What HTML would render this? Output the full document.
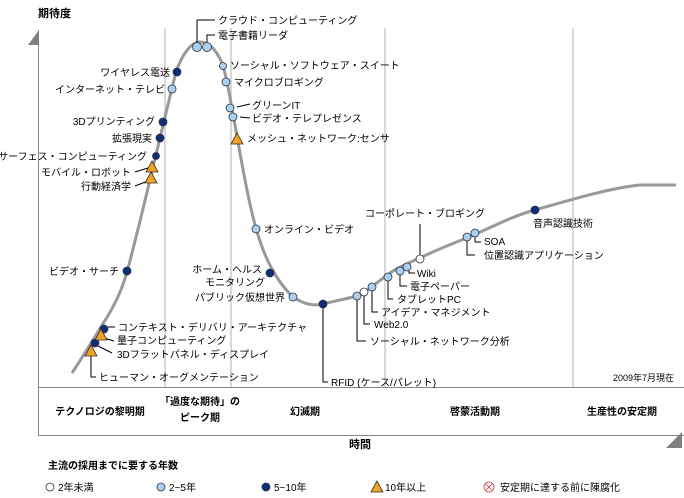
<!DOCTYPE html>
<html><head><meta charset="utf-8"><style>
html,body{margin:0;padding:0;background:#fff;}
svg{display:block;font-family:"Liberation Sans","Noto Sans CJK JP",sans-serif;}
text{font-size:10px;fill:#000;}
.b{font-weight:bold;font-size:11px;}
</style></head><body>
<svg width="684" height="498" viewBox="0 0 684 498">
<!-- phase lines -->
<g stroke="#d8d8d8" stroke-width="2">
<line x1="165" y1="28" x2="165" y2="387"/>
<line x1="231" y1="28" x2="231" y2="387"/>
<line x1="385" y1="28" x2="385" y2="387"/>
<line x1="573" y1="28" x2="573" y2="387"/>
</g>
<!-- axes -->
<line x1="38.5" y1="30" x2="38.5" y2="435" stroke="#888" stroke-width="1"/>
<polygon points="28,45 39,30 39,45" fill="#808080"/>
<line x1="38" y1="387.5" x2="684" y2="387.5" stroke="#888"/>
<line x1="38" y1="435.5" x2="684" y2="435.5" stroke="#888"/>
<polygon points="666,448 682,432 682,448" fill="#808080"/>
<text x="38" y="17" class="b">期待度</text>
<!-- curve -->
<path d="M72,373 C84,355 96,335 104,322 C115,305 122,290 127,272 C137,235 145,200 150,180 C156,155 166,112 176,72 C183,52 192,42 200,42 C210,42 218,52 223,66 C228,82 231,105 235,125 C242,165 250,210 258,235 C264,255 275,280 293,297 C305,305 315,306 323,304 C335,301 350,298 357,296 C370,290 385,275 398,268 C415,260 440,248 467,238 C490,228 515,215 535,210 C570,200 610,188 640,185 L676,185" fill="none" stroke="#999" stroke-width="3"/>
<!-- connector lines -->
<g stroke="#000" stroke-width="1" fill="none">
<polyline points="197,43 197,20 215,20"/>
<polyline points="207,43 207,35 215,35"/>
<line x1="237" y1="107" x2="250" y2="104"/>
<line x1="240" y1="117" x2="250" y2="118"/>
<line x1="135" y1="172" x2="148" y2="168"/>
<line x1="135" y1="186" x2="148" y2="181"/>
<line x1="108" y1="327" x2="115" y2="327"/>
<line x1="104" y1="338" x2="114" y2="341"/>
<line x1="98" y1="346" x2="112" y2="353"/>
<polyline points="91,356 91,377 96,377"/>
<polyline points="323,307 323,382 328,382"/>
<polyline points="357,299 357,341 366,341"/>
<polyline points="364,295 364,324 370,324"/>
<polyline points="372,290 372,312 378,312"/>
<polyline points="388,280 388,299 393,299"/>
<polyline points="400,273 400,286 407,286"/>
<polyline points="409,269 409,273 415,273"/>
<line x1="420" y1="256" x2="420" y2="224"/>
<polyline points="467,240 467,255 475,255"/>
<polyline points="475,236 475,242 481,242"/>
</g>
<!-- markers -->
<g stroke="#333" stroke-width="0.8">
<g fill="#a8d0f5">
<circle cx="197" cy="47" r="4.5"/><circle cx="207" cy="47" r="4.5"/>
<circle cx="223" cy="66" r="3.5"/><circle cx="226" cy="82" r="4"/>
<circle cx="230" cy="108" r="4"/><circle cx="233" cy="117" r="4"/>
<circle cx="172" cy="89" r="4"/><circle cx="256" cy="229" r="4"/>
<circle cx="293" cy="297" r="4"/><circle cx="357" cy="296" r="4"/>
<circle cx="372" cy="287" r="4"/><circle cx="388" cy="277" r="4"/>
<circle cx="400" cy="271" r="4"/><circle cx="407" cy="267" r="4"/>
<circle cx="467" cy="237" r="4"/><circle cx="475" cy="233" r="4"/>
</g>
<g fill="#fff"><circle cx="364" cy="292" r="4"/><circle cx="420" cy="259" r="4"/></g>
<g fill="#0a2f82">
<circle cx="177" cy="72" r="4"/><circle cx="163" cy="122" r="4"/><circle cx="160" cy="138" r="4"/>
<circle cx="156" cy="156" r="3.5"/><circle cx="127" cy="271" r="4"/><circle cx="270" cy="273" r="4"/>
<circle cx="323" cy="304" r="4"/><circle cx="535" cy="210" r="4"/><circle cx="104" cy="329" r="4"/>
<circle cx="95" cy="343" r="4"/>
</g>
<g fill="#f5a21a">
<polygon points="237,133 231,144 243,144"/>
<polygon points="152,161 146,172 158,172"/>
<polygon points="151,172 145,183 157,183"/>
<polygon points="101,329 95,340 107,340"/>
<polygon points="91,345 85,356 97,356"/>
</g>
</g>
<!-- labels -->
<text x="218" y="24">クラウド・コンピューティング</text>
<text x="218" y="39">電子書籍リーダ</text>
<text x="230" y="69">ソーシャル・ソフトウェア・スイート</text>
<text x="234" y="86">マイクロブロギング</text>
<text x="252" y="109">グリーンIT</text>
<text x="252" y="122">ビデオ・テレプレゼンス</text>
<text x="247" y="142">メッシュ・ネットワーク:センサ</text>
<text x="264" y="233">オンライン・ビデオ</text>
<text x="170" y="76" text-anchor="end">ワイヤレス電送</text>
<text x="165" y="93" text-anchor="end">インターネット・テレビ</text>
<text x="155" y="125" text-anchor="end">3Dプリンティング</text>
<text x="152" y="142" text-anchor="end">拡張現実</text>
<text x="147" y="160" text-anchor="end">サーフェス・コンピューティング</text>
<text x="131" y="176" text-anchor="end">モバイル・ロボット</text>
<text x="131" y="190" text-anchor="end">行動経済学</text>
<text x="119" y="275" text-anchor="end">ビデオ・サーチ</text>
<text x="262" y="273" text-anchor="end">ホーム・ヘルス</text>
<text x="265" y="286" text-anchor="end">モニタリング</text>
<text x="285" y="301" text-anchor="end">パブリック仮想世界</text>
<text x="118" y="331">コンテキスト・デリバリ・アーキテクチャ</text>
<text x="117" y="344">量子コンピューティング</text>
<text x="117" y="358">3Dフラットパネル・ディスプレイ</text>
<text x="99" y="381">ヒューマン・オーグメンテーション</text>
<text x="331" y="386">RFID (ケース/パレット)</text>
<text x="370" y="345">ソーシャル・ネットワーク分析</text>
<text x="374" y="328">Web2.0</text>
<text x="381" y="316">アイデア・マネジメント</text>
<text x="397" y="303">タブレットPC</text>
<text x="410" y="290">電子ペーパー</text>
<text x="417" y="277">Wiki</text>
<text x="365" y="217">コーポレート・ブロギング</text>
<text x="484" y="245">SOA</text>
<text x="484" y="259">位置認識アプリケーション</text>
<text x="533" y="227">音声認識技術</text>
<text x="674" y="381" text-anchor="end" style="font-size:9px">2009年7月現在</text>
<!-- phases -->
<g class="b" style="font-size:10px">
<text x="100" y="415" text-anchor="middle" class="b" style="font-size:10px">テクノロジの黎明期</text>
<text x="200" y="405" text-anchor="middle" class="b" style="font-size:10px">「過度な期待」の</text>
<text x="200" y="421" text-anchor="middle" class="b" style="font-size:10px">ピーク期</text>
<text x="305" y="415" text-anchor="middle" class="b" style="font-size:10px">幻滅期</text>
<text x="475" y="415" text-anchor="middle" class="b" style="font-size:10px">啓蒙活動期</text>
<text x="622" y="415" text-anchor="middle" class="b" style="font-size:10px">生産性の安定期</text>
</g>
<text x="360" y="448" text-anchor="middle" class="b">時間</text>
<text x="48" y="469" class="b" style="font-size:10px">主流の採用までに要する年数</text>
<!-- legend -->
<g stroke="#333" stroke-width="0.8">
<circle cx="50" cy="487" r="4" fill="#fff"/>
<circle cx="161" cy="487" r="4" fill="#a8d0f5"/>
<circle cx="266" cy="487" r="4" fill="#0a2f82"/>
<polygon points="377,481 371,492 383,492" fill="#f5a21a"/>
<circle cx="489" cy="487" r="5" fill="#fff" stroke="#d33"/>
<line x1="486" y1="484" x2="492" y2="490" stroke="#d33"/><line x1="492" y1="484" x2="486" y2="490" stroke="#d33"/>
</g>
<text x="58" y="491">2年未満</text>
<text x="169" y="491">2~5年</text>
<text x="274" y="491">5~10年</text>
<text x="385" y="491">10年以上</text>
<text x="500" y="491">安定期に達する前に陳腐化</text>
</svg>
</body></html>
